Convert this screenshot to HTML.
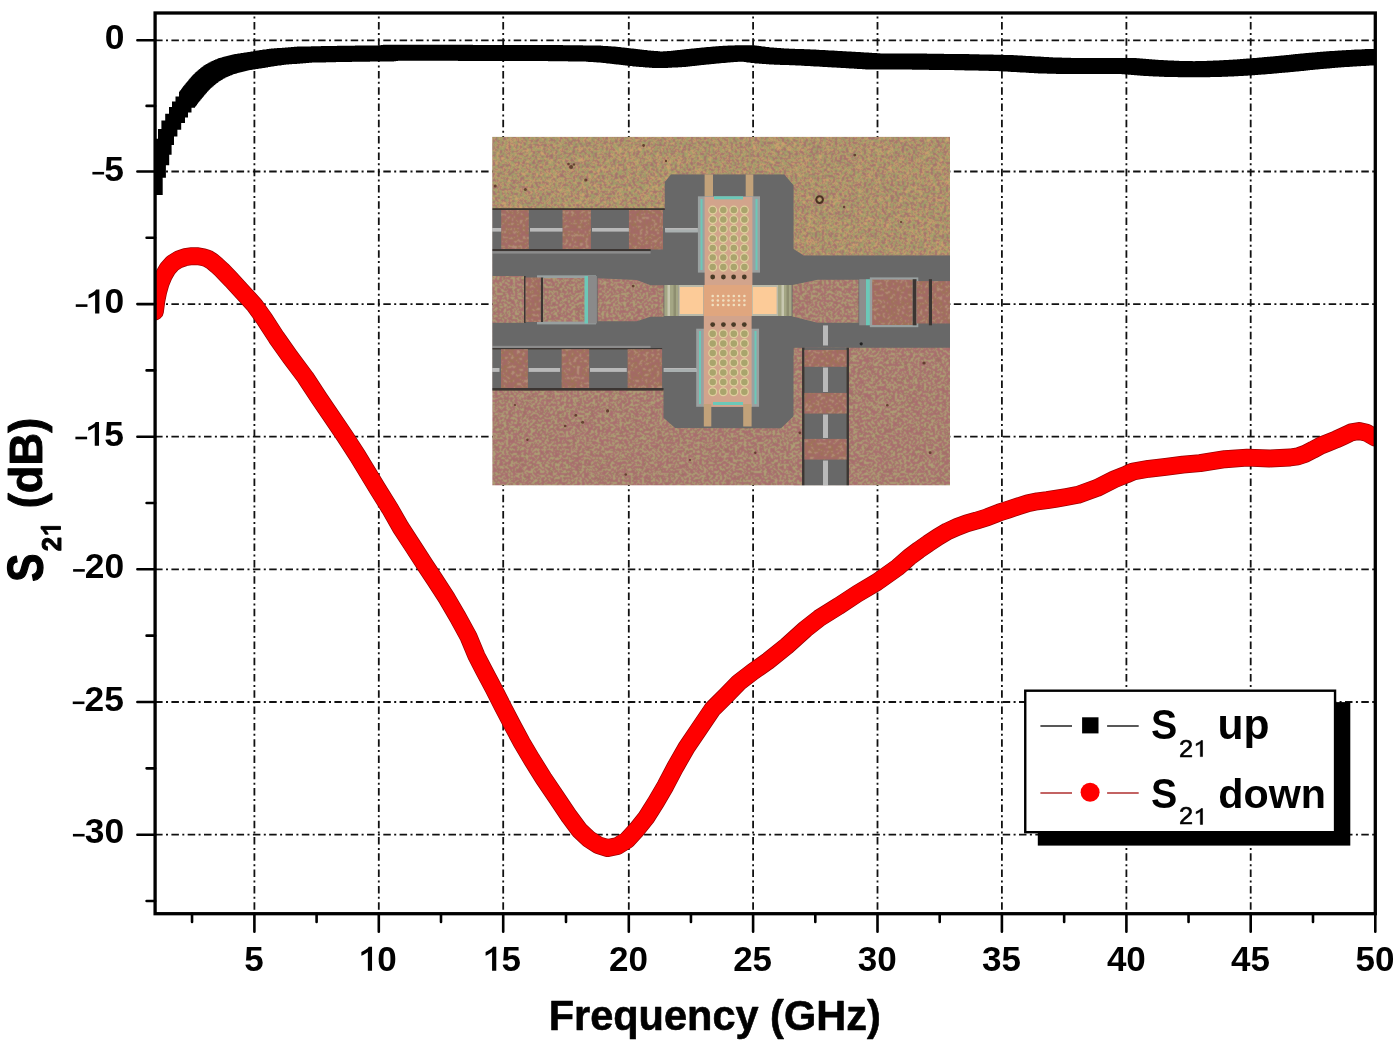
<!DOCTYPE html>
<html><head><meta charset="utf-8"><title>S21</title>
<style>html,body{margin:0;padding:0;background:#fff;width:1400px;height:1043px;overflow:hidden}svg{display:block}text{-webkit-font-smoothing:antialiased}#txt{opacity:0.999;will-change:transform}</style>
</head><body>
<svg width="1400" height="1043" viewBox="0 0 1400 1043" font-family="'Liberation Sans', sans-serif">
<defs>
<clipPath id="plot"><rect x="155.1" y="13.0" width="1220.2" height="900.7"/></clipPath>
<clipPath id="inset"><rect x="492.2" y="136.7" width="457.8" height="348.9"/></clipPath>
</defs>
<rect width="1400" height="1043" fill="#fff"/>
<path d="M254.40 13.0 V913.7M378.80 13.0 V913.7M503.20 13.0 V913.7M628.80 13.0 V913.7M753.10 13.0 V913.7M877.50 13.0 V913.7M1001.90 13.0 V913.7M1126.40 13.0 V913.7M1250.70 13.0 V913.7" stroke="#111" stroke-width="1.8" fill="none" stroke-dasharray="7.5 3.4 2 3.4" stroke-dashoffset="7.3"/>
<path d="M155.1 40.30 H1375.3M155.1 171.50 H1375.3M155.1 304.10 H1375.3M155.1 436.70 H1375.3M155.1 569.30 H1375.3M155.1 702.00 H1375.3M155.1 834.70 H1375.3" stroke="#111" stroke-width="1.8" fill="none" stroke-dasharray="7.5 3.4 2 3.4" stroke-dashoffset="0"/>
<defs>
<filter id="txTop" x="480" y="120" width="480" height="380" filterUnits="userSpaceOnUse" color-interpolation-filters="sRGB"><feTurbulence type="fractalNoise" baseFrequency="0.45" numOctaves="2" seed="3"/><feColorMatrix type="matrix" values="1 0 0 0 0 1 0 0 0 0 1 0 0 0 0 0 0 0 0 1"/><feComponentTransfer><feFuncR type="discrete" tableValues="0.651 0.651 0.651 0.651 0.651 0.651 0.651 0.651 0.651 0.651 0.651 0.651 0.651 0.651 0.651 0.651 0.651 0.651 0.651 0.651 0.651 0.651 0.651 0.651 0.651 0.651 0.651 0.651 0.651 0.651 0.651 0.651 0.651 0.651 0.651 0.651 0.808 0.808 0.808 0.808 0.808 0.808 0.627 0.627 0.627 0.627 0.627 0.627 0.627 0.627 0.627 0.627 0.627 0.627 0.627 0.627 0.627 0.627 0.627 0.627 0.627 0.627 0.627 0.627 0.627 0.627 0.627 0.627 0.627 0.627 0.627 0.627 0.627 0.627 0.627 0.627 0.627 0.627 0.627 0.627"/><feFuncG type="discrete" tableValues="0.439 0.439 0.439 0.439 0.439 0.439 0.439 0.439 0.439 0.439 0.439 0.439 0.439 0.439 0.439 0.439 0.439 0.439 0.439 0.439 0.439 0.439 0.439 0.439 0.439 0.439 0.439 0.439 0.439 0.439 0.439 0.439 0.439 0.439 0.439 0.439 0.635 0.635 0.635 0.635 0.635 0.635 0.627 0.627 0.627 0.627 0.627 0.627 0.627 0.627 0.627 0.627 0.627 0.627 0.627 0.627 0.627 0.627 0.627 0.627 0.627 0.627 0.627 0.627 0.627 0.627 0.627 0.627 0.627 0.627 0.627 0.627 0.627 0.627 0.627 0.627 0.627 0.627 0.627 0.627"/><feFuncB type="discrete" tableValues="0.431 0.431 0.431 0.431 0.431 0.431 0.431 0.431 0.431 0.431 0.431 0.431 0.431 0.431 0.431 0.431 0.431 0.431 0.431 0.431 0.431 0.431 0.431 0.431 0.431 0.431 0.431 0.431 0.431 0.431 0.431 0.431 0.431 0.431 0.431 0.431 0.431 0.431 0.431 0.431 0.431 0.431 0.416 0.416 0.416 0.416 0.416 0.416 0.416 0.416 0.416 0.416 0.416 0.416 0.416 0.416 0.416 0.416 0.416 0.416 0.416 0.416 0.416 0.416 0.416 0.416 0.416 0.416 0.416 0.416 0.416 0.416 0.416 0.416 0.416 0.416 0.416 0.416 0.416 0.416"/><feFuncA type="linear" slope="0" intercept="1"/></feComponentTransfer><feConvolveMatrix order="3" kernelMatrix="1 2 1 2 8 2 1 2 1" divisor="20" edgeMode="duplicate" preserveAlpha="true"/><feComposite in2="SourceGraphic" operator="in"/></filter>
<filter id="txBot" x="480" y="120" width="480" height="380" filterUnits="userSpaceOnUse" color-interpolation-filters="sRGB"><feTurbulence type="fractalNoise" baseFrequency="0.45" numOctaves="2" seed="11"/><feColorMatrix type="matrix" values="1 0 0 0 0 1 0 0 0 0 1 0 0 0 0 0 0 0 0 1"/><feComponentTransfer><feFuncR type="discrete" tableValues="0.667 0.667 0.667 0.667 0.667 0.667 0.667 0.667 0.667 0.667 0.667 0.667 0.667 0.667 0.667 0.667 0.667 0.667 0.667 0.667 0.667 0.667 0.667 0.667 0.667 0.667 0.667 0.667 0.667 0.667 0.667 0.667 0.667 0.667 0.667 0.667 0.667 0.667 0.667 0.667 0.667 0.596 0.596 0.675 0.675 0.675 0.675 0.675 0.675 0.675 0.675 0.675 0.675 0.675 0.675 0.675 0.675 0.675 0.675 0.675 0.675 0.675 0.675 0.675 0.675 0.675 0.675 0.675 0.675 0.675 0.675 0.675 0.675 0.675 0.675 0.675 0.675 0.675 0.675 0.675"/><feFuncG type="discrete" tableValues="0.431 0.431 0.431 0.431 0.431 0.431 0.431 0.431 0.431 0.431 0.431 0.431 0.431 0.431 0.431 0.431 0.431 0.431 0.431 0.431 0.431 0.431 0.431 0.431 0.431 0.431 0.431 0.431 0.431 0.431 0.431 0.431 0.431 0.431 0.431 0.431 0.431 0.431 0.431 0.431 0.431 0.455 0.455 0.635 0.635 0.635 0.635 0.635 0.635 0.635 0.635 0.635 0.635 0.635 0.635 0.635 0.635 0.635 0.635 0.635 0.635 0.635 0.635 0.635 0.635 0.635 0.635 0.635 0.635 0.635 0.635 0.635 0.635 0.635 0.635 0.635 0.635 0.635 0.635 0.635"/><feFuncB type="discrete" tableValues="0.439 0.439 0.439 0.439 0.439 0.439 0.439 0.439 0.439 0.439 0.439 0.439 0.439 0.439 0.439 0.439 0.439 0.439 0.439 0.439 0.439 0.439 0.439 0.439 0.439 0.439 0.439 0.439 0.439 0.439 0.439 0.439 0.439 0.439 0.439 0.439 0.439 0.439 0.439 0.439 0.439 0.376 0.376 0.455 0.455 0.455 0.455 0.455 0.455 0.455 0.455 0.455 0.455 0.455 0.455 0.455 0.455 0.455 0.455 0.455 0.455 0.455 0.455 0.455 0.455 0.455 0.455 0.455 0.455 0.455 0.455 0.455 0.455 0.455 0.455 0.455 0.455 0.455 0.455 0.455"/><feFuncA type="linear" slope="0" intercept="1"/></feComponentTransfer><feConvolveMatrix order="3" kernelMatrix="1 2 1 2 8 2 1 2 1" divisor="20" edgeMode="duplicate" preserveAlpha="true"/><feComposite in2="SourceGraphic" operator="in"/></filter>
<filter id="txPad" x="480" y="120" width="480" height="380" filterUnits="userSpaceOnUse" color-interpolation-filters="sRGB"><feTurbulence type="fractalNoise" baseFrequency="0.35" numOctaves="2" seed="5"/><feColorMatrix type="matrix" values="1 0 0 0 0 1 0 0 0 0 1 0 0 0 0 0 0 0 0 1"/><feComponentTransfer><feFuncR type="discrete" tableValues="0.643 0.643 0.643 0.643 0.643 0.643 0.643 0.643 0.643 0.643 0.643 0.643 0.643 0.643 0.643 0.643 0.643 0.643 0.643 0.643 0.643 0.643 0.643 0.643 0.643 0.643 0.643 0.643 0.643 0.643 0.643 0.643 0.643 0.643 0.643 0.643 0.643 0.643 0.643 0.643 0.643 0.643 0.612 0.612 0.612 0.612 0.612 0.612 0.612 0.612 0.706 0.706 0.706 0.706 0.706 0.706 0.706 0.706 0.706 0.706 0.706 0.706 0.706 0.706 0.706 0.706 0.706 0.706 0.706 0.706 0.706 0.706 0.706 0.706 0.706 0.706 0.706 0.706 0.706 0.706"/><feFuncG type="discrete" tableValues="0.416 0.416 0.416 0.416 0.416 0.416 0.416 0.416 0.416 0.416 0.416 0.416 0.416 0.416 0.416 0.416 0.416 0.416 0.416 0.416 0.416 0.416 0.416 0.416 0.416 0.416 0.416 0.416 0.416 0.416 0.416 0.416 0.416 0.416 0.416 0.416 0.416 0.416 0.416 0.416 0.416 0.416 0.455 0.455 0.455 0.455 0.455 0.455 0.455 0.455 0.557 0.557 0.557 0.557 0.557 0.557 0.557 0.557 0.557 0.557 0.557 0.557 0.557 0.557 0.557 0.557 0.557 0.557 0.557 0.557 0.557 0.557 0.557 0.557 0.557 0.557 0.557 0.557 0.557 0.557"/><feFuncB type="discrete" tableValues="0.400 0.400 0.400 0.400 0.400 0.400 0.400 0.400 0.400 0.400 0.400 0.400 0.400 0.400 0.400 0.400 0.400 0.400 0.400 0.400 0.400 0.400 0.400 0.400 0.400 0.400 0.400 0.400 0.400 0.400 0.400 0.400 0.400 0.400 0.400 0.400 0.400 0.400 0.400 0.400 0.400 0.400 0.329 0.329 0.329 0.329 0.329 0.329 0.329 0.329 0.478 0.478 0.478 0.478 0.478 0.478 0.478 0.478 0.478 0.478 0.478 0.478 0.478 0.478 0.478 0.478 0.478 0.478 0.478 0.478 0.478 0.478 0.478 0.478 0.478 0.478 0.478 0.478 0.478 0.478"/><feFuncA type="linear" slope="0" intercept="1"/></feComponentTransfer><feConvolveMatrix order="3" kernelMatrix="1 2 1 2 8 2 1 2 1" divisor="20" edgeMode="duplicate" preserveAlpha="true"/><feComposite in2="SourceGraphic" operator="in"/></filter>
<filter id="soft" x="480" y="120" width="480" height="380" filterUnits="userSpaceOnUse"><feGaussianBlur stdDeviation="0.6"/></filter>
</defs>
<g clip-path="url(#inset)"><g filter="url(#soft)">
<rect x="492.2" y="136.7" width="457.8" height="348.9" fill="#000" filter="url(#txBot)"/>
<path d="M492.2 136.7 L950.0 136.7 L950.0 255.5 L803.6 255.5 L793.5 249.0 L793.5 185.3 L784.3 174.4 L671.0 174.4 L664.8 182.0 L664.8 209.0 L492.2 209.0Z" fill="#000" filter="url(#txTop)"/>
<path d="M671.0 174.4 L784.3 174.4 L793.5 185.3 L793.5 249.0 L803.6 255.5 L950.0 255.5 L950.0 347.8 L805.0 347.8 L796.0 350.0 L793.7 356.0 L793.7 416.0 L781.0 428.2 L675.2 428.0 L663.5 417.7 L663.5 390.0 L492.2 390.0 L492.2 209.0 L664.8 209.0 L664.8 182.0Z" fill="#676767" />
<rect x="492.2" y="208.2" width="172.6" height="1.8" fill="#3a3530" />
<rect x="501.2" y="210.0" width="27.6" height="39.5" fill="#a2715f"  filter="url(#txPad)"/>
<rect x="562.5" y="210.0" width="28.4" height="39.5" fill="#a2715f"  filter="url(#txPad)"/>
<rect x="628.9" y="210.0" width="34.1" height="39.5" fill="#a2715f"  filter="url(#txPad)"/>
<rect x="492.2" y="249.0" width="158.4" height="2.0" fill="#3a3530" />
<rect x="492.2" y="251.2" width="158.4" height="2.4" fill="#8c8c8c" />
<rect x="492.2" y="228.0" width="9.0" height="3.6" fill="#b9b9b9" />
<rect x="530.0" y="228.0" width="32.5" height="3.6" fill="#b9b9b9" />
<rect x="592.0" y="228.0" width="36.9" height="3.6" fill="#b9b9b9" />
<rect x="665.0" y="228.0" width="32.9" height="3.6" fill="#b9b9b9" />
<rect x="537.0" y="275.3" width="59.0" height="49.1" fill="#98a0a0" />
<rect x="492.2" y="276.0" width="31.8" height="46.8" fill="#a57c70"  filter="url(#txBot)"/>
<rect x="524.0" y="276.0" width="1.6" height="46.8" fill="#3a3530" />
<rect x="525.6" y="277.5" width="15.3" height="44.5" fill="#a2715f"  filter="url(#txPad)"/>
<rect x="540.9" y="277.5" width="2.3" height="44.5" fill="#3a3530" />
<rect x="543.2" y="278.0" width="41.4" height="43.6" fill="#a88872"  filter="url(#txBot)"/>
<rect x="584.6" y="276.0" width="3.4" height="47.5" fill="#6cc8b8" />
<rect x="588.0" y="276.0" width="8.9" height="47.5" fill="#8a8a8a" />
<path d="M597.7 278.3 L636.8 279.9 L650.6 285.2 L663.6 285.2 L663.6 316.7 L650.6 316.7 L636.8 321.3 L597.7 321.3Z" fill="#a6806e"  filter="url(#txBot)"/>
<rect x="492.2" y="345.8" width="158.4" height="2.3" fill="#8c8c8c" />
<rect x="492.2" y="348.1" width="169.9" height="1.3" fill="#3a3530" />
<rect x="501.0" y="349.2" width="26.9" height="39.3" fill="#a2715f"  filter="url(#txPad)"/>
<rect x="561.6" y="349.2" width="27.6" height="39.3" fill="#a2715f"  filter="url(#txPad)"/>
<rect x="627.6" y="349.2" width="34.5" height="39.3" fill="#a2715f"  filter="url(#txPad)"/>
<rect x="492.2" y="368.0" width="7.3" height="3.9" fill="#b9b9b9" />
<rect x="528.6" y="368.0" width="31.5" height="3.9" fill="#b9b9b9" />
<rect x="590.0" y="368.0" width="36.8" height="3.9" fill="#b9b9b9" />
<rect x="663.6" y="368.0" width="33.4" height="3.9" fill="#b9b9b9" />
<rect x="492.2" y="388.0" width="171.3" height="2.6" fill="#3a3530" />
<path d="M792.5 285.0 L817.4 279.8 L858.5 279.8 L858.5 322.8 L817.4 322.8 L792.5 316.6Z" fill="#a6806e"  filter="url(#txBot)"/>
<rect x="859.2" y="279.2" width="6.8" height="46.1" fill="#8d8d8d" />
<rect x="866.0" y="279.2" width="5.0" height="46.1" fill="#6cc8b8" />
<rect x="869.8" y="277.4" width="48.5" height="49.8" fill="#98a0a0" />
<rect x="872.2" y="279.6" width="40.5" height="45.4" fill="#a2715f"  filter="url(#txPad)"/>
<rect x="912.7" y="279.2" width="3.8" height="46.1" fill="#3a3530" />
<rect x="916.5" y="281.1" width="12.4" height="42.4" fill="#a07a62"  filter="url(#txPad)"/>
<rect x="928.9" y="279.2" width="3.1" height="46.1" fill="#3a3530" />
<rect x="932.0" y="281.1" width="18.0" height="42.4" fill="#a2715f"  filter="url(#txPad)"/>
<rect x="793.7" y="347.8" width="8.4" height="137.8" fill="#a57c70"  filter="url(#txBot)"/>
<rect x="802.1" y="347.8" width="46.8" height="137.8" fill="#676767" />
<rect x="802.1" y="347.8" width="2.3" height="137.8" fill="#3a3530" />
<rect x="846.6" y="347.8" width="2.3" height="137.8" fill="#3a3530" />
<rect x="804.4" y="349.9" width="42.2" height="16.9" fill="#a2715f"  filter="url(#txPad)"/>
<rect x="804.4" y="392.9" width="42.2" height="20.7" fill="#a2715f"  filter="url(#txPad)"/>
<rect x="804.4" y="438.9" width="42.2" height="20.7" fill="#a2715f"  filter="url(#txPad)"/>
<rect x="823.0" y="325.4" width="5.0" height="20.1" fill="#b9b9b9" />
<rect x="823.0" y="367.5" width="5.0" height="24.5" fill="#b9b9b9" />
<rect x="823.0" y="414.5" width="5.0" height="23.5" fill="#b9b9b9" />
<rect x="823.0" y="460.5" width="5.0" height="25.1" fill="#b9b9b9" />
<rect x="704.6" y="174.4" width="8.4" height="23.6" fill="#c2a27a" />
<rect x="745.7" y="174.4" width="7.6" height="23.6" fill="#c2a27a" />
<rect x="697.9" y="196.3" width="62.1" height="76.3" fill="#9aa0a0" />
<rect x="700.5" y="199.0" width="2.0" height="71.0" fill="#6cc8b8" />
<rect x="755.5" y="199.0" width="2.0" height="71.0" fill="#6cc8b8" />
<rect x="704.6" y="197.0" width="47.8" height="89.0" fill="#d2a48c" />
<rect x="696.2" y="328.7" width="62.9" height="78.1" fill="#9aa0a0" />
<rect x="699.0" y="331.0" width="2.0" height="73.0" fill="#6cc8b8" />
<rect x="754.5" y="331.0" width="2.0" height="73.0" fill="#6cc8b8" />
<rect x="703.8" y="315.0" width="47.8" height="91.8" fill="#d2a48c" />
<rect x="703.8" y="404.0" width="7.5" height="22.5" fill="#c2a27a" />
<rect x="743.2" y="404.0" width="8.4" height="22.5" fill="#c2a27a" />
<g fill="#a9a46c" stroke="#e0cf9e" stroke-width="1.3"><circle cx="712.7" cy="210.1" r="3.9"/><circle cx="712.7" cy="333.8" r="3.9"/><circle cx="712.7" cy="219.6" r="3.9"/><circle cx="712.7" cy="343.4" r="3.9"/><circle cx="712.7" cy="229.1" r="3.9"/><circle cx="712.7" cy="353.1" r="3.9"/><circle cx="712.7" cy="238.6" r="3.9"/><circle cx="712.7" cy="362.8" r="3.9"/><circle cx="712.7" cy="248.1" r="3.9"/><circle cx="712.7" cy="372.4" r="3.9"/><circle cx="712.7" cy="257.6" r="3.9"/><circle cx="712.7" cy="382.1" r="3.9"/><circle cx="712.7" cy="267.1" r="3.9"/><circle cx="712.7" cy="391.7" r="3.9"/><circle cx="723.3" cy="210.1" r="3.9"/><circle cx="723.3" cy="333.8" r="3.9"/><circle cx="723.3" cy="219.6" r="3.9"/><circle cx="723.3" cy="343.4" r="3.9"/><circle cx="723.3" cy="229.1" r="3.9"/><circle cx="723.3" cy="353.1" r="3.9"/><circle cx="723.3" cy="238.6" r="3.9"/><circle cx="723.3" cy="362.8" r="3.9"/><circle cx="723.3" cy="248.1" r="3.9"/><circle cx="723.3" cy="372.4" r="3.9"/><circle cx="723.3" cy="257.6" r="3.9"/><circle cx="723.3" cy="382.1" r="3.9"/><circle cx="723.3" cy="267.1" r="3.9"/><circle cx="723.3" cy="391.7" r="3.9"/><circle cx="733.8" cy="210.1" r="3.9"/><circle cx="733.8" cy="333.8" r="3.9"/><circle cx="733.8" cy="219.6" r="3.9"/><circle cx="733.8" cy="343.4" r="3.9"/><circle cx="733.8" cy="229.1" r="3.9"/><circle cx="733.8" cy="353.1" r="3.9"/><circle cx="733.8" cy="238.6" r="3.9"/><circle cx="733.8" cy="362.8" r="3.9"/><circle cx="733.8" cy="248.1" r="3.9"/><circle cx="733.8" cy="372.4" r="3.9"/><circle cx="733.8" cy="257.6" r="3.9"/><circle cx="733.8" cy="382.1" r="3.9"/><circle cx="733.8" cy="267.1" r="3.9"/><circle cx="733.8" cy="391.7" r="3.9"/><circle cx="744.4" cy="210.1" r="3.9"/><circle cx="744.4" cy="333.8" r="3.9"/><circle cx="744.4" cy="219.6" r="3.9"/><circle cx="744.4" cy="343.4" r="3.9"/><circle cx="744.4" cy="229.1" r="3.9"/><circle cx="744.4" cy="353.1" r="3.9"/><circle cx="744.4" cy="238.6" r="3.9"/><circle cx="744.4" cy="362.8" r="3.9"/><circle cx="744.4" cy="248.1" r="3.9"/><circle cx="744.4" cy="372.4" r="3.9"/><circle cx="744.4" cy="257.6" r="3.9"/><circle cx="744.4" cy="382.1" r="3.9"/><circle cx="744.4" cy="267.1" r="3.9"/><circle cx="744.4" cy="391.7" r="3.9"/></g>
<rect x="714.0" y="196.3" width="29.0" height="3.0" fill="#6cc8b8" />
<rect x="713.0" y="402.0" width="30.0" height="3.0" fill="#6cc8b8" />
<rect x="664.3" y="285.0" width="14.1" height="31.0" fill="#a4a684" />
<rect x="667.5" y="285.0" width="2.5" height="31.0" fill="#c8c8b0" />
<rect x="673.5" y="285.0" width="2.5" height="31.0" fill="#8e8e70" />
<rect x="678.4" y="285.0" width="25.4" height="31.0" fill="#b9b9a8" />
<rect x="679.8" y="287.0" width="23.4" height="27.0" fill="#fccb98" />
<rect x="703.8" y="285.0" width="48.2" height="31.0" fill="#e0a67e" />
<rect x="752.0" y="285.0" width="26.0" height="31.0" fill="#b9b9a8" />
<rect x="752.8" y="287.0" width="23.8" height="27.0" fill="#fccb98" />
<rect x="778.0" y="285.0" width="13.6" height="31.0" fill="#a4a684" />
<rect x="781.5" y="285.0" width="2.5" height="31.0" fill="#c8c8b0" />
<rect x="786.5" y="285.0" width="2.5" height="31.0" fill="#8e8e70" />
<g fill="#f0e0c0"><circle cx="712.7" cy="296.0" r="1.3"/><circle cx="712.7" cy="300.5" r="1.3"/><circle cx="712.7" cy="305.0" r="1.3"/><circle cx="717.9" cy="296.0" r="1.3"/><circle cx="717.9" cy="300.5" r="1.3"/><circle cx="717.9" cy="305.0" r="1.3"/><circle cx="723.3" cy="296.0" r="1.3"/><circle cx="723.3" cy="300.5" r="1.3"/><circle cx="723.3" cy="305.0" r="1.3"/><circle cx="728.5" cy="296.0" r="1.3"/><circle cx="728.5" cy="300.5" r="1.3"/><circle cx="728.5" cy="305.0" r="1.3"/><circle cx="733.8" cy="296.0" r="1.3"/><circle cx="733.8" cy="300.5" r="1.3"/><circle cx="733.8" cy="305.0" r="1.3"/><circle cx="739.1" cy="296.0" r="1.3"/><circle cx="739.1" cy="300.5" r="1.3"/><circle cx="739.1" cy="305.0" r="1.3"/><circle cx="744.4" cy="296.0" r="1.3"/><circle cx="744.4" cy="300.5" r="1.3"/><circle cx="744.4" cy="305.0" r="1.3"/></g>
<g fill="#4a3a28"><circle cx="712.7" cy="277.0" r="2.4"/><circle cx="712.7" cy="324.6" r="2.4"/><circle cx="723.4" cy="277.0" r="2.4"/><circle cx="723.4" cy="324.6" r="2.4"/><circle cx="733.6" cy="277.0" r="2.4"/><circle cx="733.6" cy="324.6" r="2.4"/><circle cx="744.3" cy="277.0" r="2.4"/><circle cx="744.3" cy="324.6" r="2.4"/></g>
<rect x="665.2" y="229.5" width="32.7" height="3.0" fill="#a9b0b0" />
<rect x="664.3" y="369.0" width="32.7" height="3.0" fill="#a9b0b0" />
<g fill="#5a3526" opacity="0.85"><circle cx="571.1" cy="167.1" r="2.0"/><circle cx="568.5" cy="164.0" r="1.3"/><circle cx="574.0" cy="164.5" r="1.2"/><circle cx="585.8" cy="180" r="1.6"/><circle cx="525.4" cy="189.5" r="1.5"/><circle cx="495.2" cy="186.1" r="1.5"/><circle cx="643.6" cy="145.5" r="1.4"/><circle cx="666" cy="161" r="1.2"/><circle cx="633.2" cy="286.1" r="1.4"/><circle cx="854.8" cy="155.1" r="1.4"/><circle cx="844.0" cy="207.0" r="1.2"/><circle cx="924" cy="363" r="1.6"/><circle cx="887.3" cy="405.2" r="1.3"/><circle cx="930.2" cy="452.7" r="1.4"/><circle cx="799.8" cy="432.8" r="1.4"/><circle cx="755.3" cy="452.7" r="1.2"/><circle cx="607.6" cy="410.9" r="1.6"/><circle cx="575.8" cy="415.4" r="1.4"/><circle cx="582.6" cy="422.2" r="1.5"/><circle cx="565.2" cy="426" r="1.3"/><circle cx="527.4" cy="439.7" r="1.2"/><circle cx="625.8" cy="474.5" r="1.3"/><circle cx="515.0" cy="405.0" r="1.1"/><circle cx="690.0" cy="460.0" r="1.1"/><circle cx="901.0" cy="222.0" r="1.1"/></g>
<circle cx="861.2" cy="343.8" r="1.6" fill="#222"/>
<circle cx="819.6" cy="199.6" r="3.3" fill="none" stroke="#4a3020" stroke-width="2"/>
</g></g>
<g clip-path="url(#plot)">
<path d="M154.9 311.5 L156.3 301.0 L158.2 291.5 L160.6 283.0 L163.7 275.5 L167.6 268.7 L172.5 263.3 L178.5 259.5 L185.0 257.2 L192.0 256.2 L198.0 256.3 L203.5 257.3 L207.5 258.5 L212.3 261.4 L217.0 265.5 L221.9 270.0 L231.5 280.0 L241.1 290.5 L254.4 305.0 L264.0 318.4 L276.4 337.5 L289.9 356.7 L305.5 377.5 L319.2 398.4 L332.2 417.5 L345.2 436.7 L357.6 455.9 L377.8 489.2 L389.8 508.4 L400.7 527.5 L413.2 546.7 L425.6 565.9 L434.5 579.2 L446.9 598.4 L458.0 617.5 L468.5 636.7 L476.5 656.0 L483.3 669.2 L493.5 688.4 L503.2 707.5 L513.2 726.7 L522.0 743.0 L531.6 759.2 L543.6 778.4 L556.5 797.5 L569.4 816.7 L579.2 829.9 L588.8 839.0 L598.4 845.2 L607.9 848.1 L617.5 846.0 L627.1 840.0 L636.7 829.5 L646.3 817.5 L655.9 802.2 L665.4 785.9 L675.5 766.7 L686.5 747.5 L699.4 728.4 L712.4 709.2 L725.8 695.9 L738.8 682.5 L753.1 671.5 L767.5 661.4 L786.7 646.0 L805.5 629.0 L819.2 618.2 L838.4 606.2 L857.5 593.6 L876.7 582.2 L897.5 567.5 L909.2 557.2 L918.8 550.0 L928.4 543.3 L937.9 537.0 L947.5 531.3 L957.1 527.0 L966.7 523.4 L976.3 520.7 L987.5 517.2 L999.2 512.6 L1008.8 509.4 L1018.4 506.3 L1027.9 503.2 L1037.5 501.3 L1047.1 500.1 L1056.7 498.6 L1066.3 497.0 L1078.0 494.8 L1097.1 487.9 L1114.3 479.3 L1126.3 474.5 L1133.1 471.5 L1148.6 468.8 L1165.7 466.9 L1182.9 464.7 L1200.0 463.2 L1225.0 459.2 L1247.1 457.6 L1269.3 458.5 L1290.0 457.5 L1297.7 456.4 L1305.3 453.7 L1313.0 449.8 L1320.7 445.6 L1328.3 442.6 L1336.0 439.5 L1343.7 436.0 L1351.3 432.4 L1359.0 431.0 L1366.7 432.8 L1375.0 437.5" fill="none" stroke="#9a0000" stroke-width="17.9" stroke-linejoin="round" stroke-linecap="round"/>
<path d="M154.9 311.5 L156.3 301.0 L158.2 291.5 L160.6 283.0 L163.7 275.5 L167.6 268.7 L172.5 263.3 L178.5 259.5 L185.0 257.2 L192.0 256.2 L198.0 256.3 L203.5 257.3 L207.5 258.5 L212.3 261.4 L217.0 265.5 L221.9 270.0 L231.5 280.0 L241.1 290.5 L254.4 305.0 L264.0 318.4 L276.4 337.5 L289.9 356.7 L305.5 377.5 L319.2 398.4 L332.2 417.5 L345.2 436.7 L357.6 455.9 L377.8 489.2 L389.8 508.4 L400.7 527.5 L413.2 546.7 L425.6 565.9 L434.5 579.2 L446.9 598.4 L458.0 617.5 L468.5 636.7 L476.5 656.0 L483.3 669.2 L493.5 688.4 L503.2 707.5 L513.2 726.7 L522.0 743.0 L531.6 759.2 L543.6 778.4 L556.5 797.5 L569.4 816.7 L579.2 829.9 L588.8 839.0 L598.4 845.2 L607.9 848.1 L617.5 846.0 L627.1 840.0 L636.7 829.5 L646.3 817.5 L655.9 802.2 L665.4 785.9 L675.5 766.7 L686.5 747.5 L699.4 728.4 L712.4 709.2 L725.8 695.9 L738.8 682.5 L753.1 671.5 L767.5 661.4 L786.7 646.0 L805.5 629.0 L819.2 618.2 L838.4 606.2 L857.5 593.6 L876.7 582.2 L897.5 567.5 L909.2 557.2 L918.8 550.0 L928.4 543.3 L937.9 537.0 L947.5 531.3 L957.1 527.0 L966.7 523.4 L976.3 520.7 L987.5 517.2 L999.2 512.6 L1008.8 509.4 L1018.4 506.3 L1027.9 503.2 L1037.5 501.3 L1047.1 500.1 L1056.7 498.6 L1066.3 497.0 L1078.0 494.8 L1097.1 487.9 L1114.3 479.3 L1126.3 474.5 L1133.1 471.5 L1148.6 468.8 L1165.7 466.9 L1182.9 464.7 L1200.0 463.2 L1225.0 459.2 L1247.1 457.6 L1269.3 458.5 L1290.0 457.5 L1297.7 456.4 L1305.3 453.7 L1313.0 449.8 L1320.7 445.6 L1328.3 442.6 L1336.0 439.5 L1343.7 436.0 L1351.3 432.4 L1359.0 431.0 L1366.7 432.8 L1375.0 437.5" fill="none" stroke="#ff0000" stroke-width="16.4" stroke-linejoin="round" stroke-linecap="round"/>
<path d="M146.7 178.9h16v16h-16zM149.9 161.7h16v16h-16zM153.2 149.2h16v16h-16zM155.6 138.7h16v16h-16zM158.0 129.1h16v16h-16zM161.4 120.4h16v16h-16zM165.2 113.7h16v16h-16zM169.0 107.0h16v16h-16zM172.0 101.5h16v16h-16zM175.5 96.5h16v16h-16zM179.0 91.8h16v16h-16zM179.0 91.8h16v16h-16zM179.7 90.8h16v16h-16zM180.4 89.9h16v16h-16zM181.1 88.9h16v16h-16zM181.8 88.0h16v16h-16zM182.5 87.0h16v16h-16zM183.2 86.1h16v16h-16zM183.9 85.3h16v16h-16zM184.6 84.4h16v16h-16zM185.3 83.6h16v16h-16zM186.0 82.7h16v16h-16zM186.7 81.9h16v16h-16zM187.4 81.0h16v16h-16zM188.1 80.2h16v16h-16zM188.8 79.3h16v16h-16zM189.5 78.5h16v16h-16zM190.2 77.7h16v16h-16zM190.9 76.9h16v16h-16zM191.6 76.1h16v16h-16zM192.3 75.3h16v16h-16zM193.0 74.5h16v16h-16zM193.9 73.7h16v16h-16zM194.8 72.8h16v16h-16zM195.6 72.0h16v16h-16zM196.5 71.2h16v16h-16zM197.4 70.5h16v16h-16zM198.2 69.7h16v16h-16zM199.1 69.0h16v16h-16zM200.0 68.2h16v16h-16zM200.9 67.5h16v16h-16zM201.8 66.9h16v16h-16zM202.6 66.2h16v16h-16zM203.5 65.6h16v16h-16zM204.4 65.0h16v16h-16zM205.2 64.5h16v16h-16zM206.1 64.0h16v16h-16zM207.0 63.4h16v16h-16zM208.2 62.8h16v16h-16zM209.3 62.2h16v16h-16zM210.5 61.6h16v16h-16zM211.7 61.1h16v16h-16zM212.8 60.5h16v16h-16zM214.0 60.0h16v16h-16zM215.0 59.6h16v16h-16zM216.0 59.2h16v16h-16zM217.0 58.7h16v16h-16zM218.0 58.3h16v16h-16zM219.1 58.0h16v16h-16zM220.1 57.7h16v16h-16zM221.2 57.4h16v16h-16zM222.3 57.1h16v16h-16zM223.4 56.8h16v16h-16zM224.4 56.5h16v16h-16zM225.5 56.2h16v16h-16zM226.5 56.0h16v16h-16zM227.5 55.7h16v16h-16zM228.5 55.5h16v16h-16zM229.5 55.2h16v16h-16zM230.5 55.0h16v16h-16zM231.5 54.7h16v16h-16zM232.5 54.5h16v16h-16zM233.6 54.3h16v16h-16zM234.6 54.1h16v16h-16zM235.7 53.9h16v16h-16zM236.8 53.8h16v16h-16zM237.8 53.6h16v16h-16zM238.9 53.4h16v16h-16zM239.9 53.2h16v16h-16zM241.0 53.0h16v16h-16zM242.1 52.9h16v16h-16zM243.2 52.7h16v16h-16zM244.3 52.6h16v16h-16zM245.4 52.4h16v16h-16zM246.5 52.3h16v16h-16zM247.6 52.1h16v16h-16zM248.7 52.0h16v16h-16zM249.8 51.8h16v16h-16zM250.9 51.6h16v16h-16zM252.0 51.4h16v16h-16zM253.2 51.1h16v16h-16zM254.3 50.9h16v16h-16zM255.4 50.7h16v16h-16zM256.5 50.5h16v16h-16zM257.6 50.4h16v16h-16zM258.6 50.2h16v16h-16zM259.7 50.1h16v16h-16zM260.8 49.9h16v16h-16zM261.9 49.8h16v16h-16zM262.9 49.6h16v16h-16zM264.0 49.5h16v16h-16zM265.0 49.4h16v16h-16zM266.0 49.2h16v16h-16zM267.0 49.1h16v16h-16zM268.0 49.0h16v16h-16zM269.0 48.8h16v16h-16zM270.0 48.7h16v16h-16zM271.0 48.5h16v16h-16zM272.0 48.4h16v16h-16zM273.0 48.4h16v16h-16zM274.0 48.3h16v16h-16zM275.0 48.2h16v16h-16zM276.0 48.2h16v16h-16zM277.0 48.1h16v16h-16zM278.0 48.1h16v16h-16zM279.0 48.0h16v16h-16zM280.0 48.0h16v16h-16zM281.0 47.9h16v16h-16zM282.0 47.8h16v16h-16zM283.0 47.8h16v16h-16zM284.0 47.7h16v16h-16zM285.0 47.6h16v16h-16zM286.0 47.5h16v16h-16zM287.0 47.4h16v16h-16zM288.0 47.3h16v16h-16zM289.0 47.3h16v16h-16zM290.0 47.2h16v16h-16zM291.0 47.1h16v16h-16zM292.0 47.0h16v16h-16zM293.0 46.9h16v16h-16zM294.0 46.8h16v16h-16zM295.0 46.8h16v16h-16zM296.0 46.7h16v16h-16zM297.0 46.6h16v16h-16zM298.0 46.6h16v16h-16zM299.0 46.6h16v16h-16zM300.0 46.5h16v16h-16zM301.0 46.5h16v16h-16zM302.0 46.5h16v16h-16zM303.0 46.5h16v16h-16zM304.0 46.5h16v16h-16zM305.0 46.5h16v16h-16zM306.0 46.4h16v16h-16zM307.0 46.4h16v16h-16zM308.0 46.4h16v16h-16zM309.0 46.4h16v16h-16zM310.0 46.4h16v16h-16zM311.0 46.3h16v16h-16zM312.0 46.3h16v16h-16zM313.0 46.3h16v16h-16zM314.0 46.3h16v16h-16zM315.0 46.3h16v16h-16zM316.0 46.2h16v16h-16zM317.0 46.2h16v16h-16zM318.0 46.2h16v16h-16zM319.0 46.2h16v16h-16zM320.0 46.2h16v16h-16zM321.0 46.1h16v16h-16zM322.0 46.1h16v16h-16zM323.0 46.1h16v16h-16zM324.0 46.1h16v16h-16zM325.0 46.0h16v16h-16zM326.0 46.0h16v16h-16zM327.0 46.0h16v16h-16zM328.0 46.0h16v16h-16zM329.0 46.0h16v16h-16zM330.0 45.9h16v16h-16zM331.0 45.9h16v16h-16zM332.0 45.9h16v16h-16zM333.0 45.9h16v16h-16zM334.0 45.9h16v16h-16zM335.0 45.9h16v16h-16zM336.0 45.9h16v16h-16zM337.0 45.8h16v16h-16zM338.0 45.8h16v16h-16zM339.0 45.8h16v16h-16zM340.0 45.8h16v16h-16zM341.0 45.8h16v16h-16zM342.0 45.8h16v16h-16zM343.0 45.8h16v16h-16zM344.0 45.8h16v16h-16zM345.0 45.8h16v16h-16zM346.0 45.7h16v16h-16zM347.0 45.7h16v16h-16zM348.0 45.7h16v16h-16zM349.0 45.7h16v16h-16zM350.0 45.7h16v16h-16zM351.0 45.7h16v16h-16zM352.0 45.7h16v16h-16zM353.0 45.7h16v16h-16zM354.0 45.7h16v16h-16zM355.0 45.6h16v16h-16zM356.0 45.6h16v16h-16zM357.0 45.6h16v16h-16zM358.0 45.6h16v16h-16zM359.0 45.6h16v16h-16zM360.0 45.6h16v16h-16zM361.0 45.6h16v16h-16zM362.0 45.6h16v16h-16zM363.0 45.6h16v16h-16zM364.0 45.6h16v16h-16zM365.0 45.5h16v16h-16zM366.0 45.5h16v16h-16zM367.0 45.5h16v16h-16zM368.0 45.5h16v16h-16zM369.0 45.5h16v16h-16zM370.0 45.5h16v16h-16zM371.0 45.5h16v16h-16zM372.0 45.5h16v16h-16zM373.0 45.5h16v16h-16zM374.0 45.4h16v16h-16zM375.0 45.4h16v16h-16zM376.0 45.4h16v16h-16zM377.0 45.4h16v16h-16zM378.0 45.4h16v16h-16zM379.0 45.3h16v16h-16zM380.0 45.2h16v16h-16zM381.0 45.0h16v16h-16zM382.0 44.9h16v16h-16zM383.0 44.8h16v16h-16zM384.0 44.7h16v16h-16zM385.0 44.7h16v16h-16zM386.0 44.7h16v16h-16zM387.0 44.7h16v16h-16zM388.0 44.7h16v16h-16zM389.0 44.7h16v16h-16zM390.0 44.7h16v16h-16zM391.0 44.7h16v16h-16zM392.0 44.7h16v16h-16zM393.0 44.7h16v16h-16zM394.0 44.7h16v16h-16zM395.0 44.7h16v16h-16zM396.0 44.7h16v16h-16zM397.0 44.7h16v16h-16zM398.0 44.7h16v16h-16zM399.0 44.7h16v16h-16zM400.0 44.7h16v16h-16zM401.0 44.7h16v16h-16zM402.0 44.7h16v16h-16zM403.0 44.7h16v16h-16zM404.0 44.7h16v16h-16zM405.0 44.7h16v16h-16zM406.0 44.7h16v16h-16zM407.0 44.7h16v16h-16zM408.0 44.7h16v16h-16zM409.0 44.8h16v16h-16zM410.0 44.8h16v16h-16zM411.0 44.8h16v16h-16zM412.0 44.8h16v16h-16zM413.0 44.8h16v16h-16zM414.0 44.8h16v16h-16zM415.0 44.8h16v16h-16zM416.0 44.8h16v16h-16zM417.0 44.8h16v16h-16zM418.0 44.8h16v16h-16zM419.0 44.8h16v16h-16zM420.0 44.8h16v16h-16zM421.0 44.8h16v16h-16zM422.0 44.8h16v16h-16zM423.0 44.8h16v16h-16zM424.0 44.8h16v16h-16zM425.0 44.8h16v16h-16zM426.0 44.8h16v16h-16zM427.0 44.8h16v16h-16zM428.0 44.8h16v16h-16zM429.0 44.8h16v16h-16zM430.0 44.8h16v16h-16zM431.0 44.8h16v16h-16zM432.0 44.8h16v16h-16zM433.0 44.8h16v16h-16zM434.0 44.8h16v16h-16zM435.0 44.8h16v16h-16zM436.0 44.8h16v16h-16zM437.0 44.8h16v16h-16zM438.0 44.8h16v16h-16zM439.0 44.8h16v16h-16zM440.0 44.8h16v16h-16zM441.0 44.8h16v16h-16zM442.0 44.8h16v16h-16zM443.0 44.8h16v16h-16zM444.0 44.8h16v16h-16zM445.0 44.8h16v16h-16zM446.0 44.8h16v16h-16zM447.0 44.8h16v16h-16zM448.0 44.8h16v16h-16zM449.0 44.8h16v16h-16zM450.0 44.8h16v16h-16zM451.0 44.8h16v16h-16zM452.0 44.8h16v16h-16zM453.0 44.8h16v16h-16zM454.0 44.8h16v16h-16zM455.0 44.8h16v16h-16zM456.0 44.8h16v16h-16zM457.0 44.8h16v16h-16zM458.0 44.9h16v16h-16zM459.0 44.9h16v16h-16zM460.0 44.9h16v16h-16zM461.0 44.9h16v16h-16zM462.0 44.9h16v16h-16zM463.0 44.9h16v16h-16zM464.0 44.9h16v16h-16zM465.0 44.9h16v16h-16zM466.0 44.9h16v16h-16zM467.0 44.9h16v16h-16zM468.0 44.9h16v16h-16zM469.0 44.9h16v16h-16zM470.0 44.9h16v16h-16zM471.0 44.9h16v16h-16zM472.0 44.9h16v16h-16zM473.0 44.9h16v16h-16zM474.0 44.9h16v16h-16zM475.0 44.9h16v16h-16zM476.0 44.9h16v16h-16zM477.0 44.9h16v16h-16zM478.0 44.9h16v16h-16zM479.0 44.9h16v16h-16zM480.0 44.9h16v16h-16zM481.0 44.9h16v16h-16zM482.0 44.9h16v16h-16zM483.0 44.9h16v16h-16zM484.0 44.9h16v16h-16zM485.0 44.9h16v16h-16zM486.0 44.9h16v16h-16zM487.0 44.9h16v16h-16zM488.0 44.9h16v16h-16zM489.0 44.9h16v16h-16zM490.0 44.9h16v16h-16zM491.0 44.9h16v16h-16zM492.0 44.9h16v16h-16zM493.0 44.9h16v16h-16zM494.0 44.9h16v16h-16zM495.0 44.9h16v16h-16zM496.0 44.9h16v16h-16zM497.0 44.9h16v16h-16zM498.0 44.9h16v16h-16zM499.0 44.9h16v16h-16zM500.0 44.9h16v16h-16zM501.0 44.9h16v16h-16zM502.0 44.9h16v16h-16zM503.0 44.9h16v16h-16zM504.0 44.9h16v16h-16zM505.0 44.9h16v16h-16zM506.0 44.9h16v16h-16zM507.0 44.9h16v16h-16zM508.0 45.0h16v16h-16zM509.0 45.0h16v16h-16zM510.0 45.0h16v16h-16zM511.0 45.0h16v16h-16zM512.0 45.0h16v16h-16zM513.0 45.0h16v16h-16zM514.0 45.0h16v16h-16zM515.0 45.0h16v16h-16zM516.0 45.0h16v16h-16zM517.0 45.0h16v16h-16zM518.0 45.0h16v16h-16zM519.0 45.0h16v16h-16zM520.0 45.0h16v16h-16zM521.0 45.0h16v16h-16zM522.0 45.0h16v16h-16zM523.0 45.0h16v16h-16zM524.0 45.0h16v16h-16zM525.0 45.0h16v16h-16zM526.0 45.0h16v16h-16zM527.0 45.0h16v16h-16zM528.0 45.0h16v16h-16zM529.0 45.0h16v16h-16zM530.0 45.0h16v16h-16zM531.0 45.0h16v16h-16zM532.0 45.0h16v16h-16zM533.0 45.0h16v16h-16zM534.0 45.0h16v16h-16zM535.0 45.0h16v16h-16zM536.0 45.0h16v16h-16zM537.0 45.0h16v16h-16zM538.0 45.1h16v16h-16zM539.0 45.1h16v16h-16zM540.0 45.1h16v16h-16zM541.0 45.1h16v16h-16zM542.0 45.1h16v16h-16zM543.0 45.1h16v16h-16zM544.0 45.1h16v16h-16zM545.0 45.1h16v16h-16zM546.0 45.1h16v16h-16zM547.0 45.1h16v16h-16zM548.0 45.2h16v16h-16zM549.0 45.2h16v16h-16zM550.0 45.2h16v16h-16zM551.0 45.2h16v16h-16zM552.0 45.2h16v16h-16zM553.0 45.2h16v16h-16zM554.0 45.2h16v16h-16zM555.0 45.2h16v16h-16zM556.0 45.2h16v16h-16zM557.0 45.2h16v16h-16zM558.0 45.3h16v16h-16zM559.0 45.3h16v16h-16zM560.0 45.3h16v16h-16zM561.0 45.3h16v16h-16zM562.0 45.3h16v16h-16zM563.0 45.3h16v16h-16zM564.0 45.3h16v16h-16zM565.0 45.3h16v16h-16zM566.0 45.3h16v16h-16zM567.0 45.3h16v16h-16zM568.0 45.4h16v16h-16zM569.0 45.4h16v16h-16zM570.0 45.4h16v16h-16zM571.0 45.4h16v16h-16zM572.0 45.4h16v16h-16zM573.0 45.4h16v16h-16zM574.0 45.4h16v16h-16zM575.0 45.4h16v16h-16zM576.0 45.4h16v16h-16zM577.0 45.4h16v16h-16zM578.0 45.5h16v16h-16zM579.0 45.5h16v16h-16zM580.0 45.5h16v16h-16zM581.0 45.5h16v16h-16zM582.0 45.5h16v16h-16zM583.0 45.5h16v16h-16zM584.0 45.6h16v16h-16zM585.1 45.6h16v16h-16zM586.1 45.7h16v16h-16zM587.1 45.8h16v16h-16zM588.2 45.9h16v16h-16zM589.2 45.9h16v16h-16zM590.2 46.0h16v16h-16zM591.3 46.1h16v16h-16zM592.3 46.1h16v16h-16zM593.4 46.2h16v16h-16zM594.4 46.3h16v16h-16zM595.4 46.3h16v16h-16zM596.5 46.4h16v16h-16zM597.5 46.5h16v16h-16zM598.5 46.6h16v16h-16zM599.6 46.6h16v16h-16zM600.6 46.7h16v16h-16zM601.6 46.8h16v16h-16zM602.6 46.9h16v16h-16zM603.6 47.0h16v16h-16zM604.6 47.1h16v16h-16zM605.6 47.3h16v16h-16zM606.6 47.4h16v16h-16zM607.6 47.5h16v16h-16zM608.6 47.6h16v16h-16zM609.7 47.7h16v16h-16zM610.7 47.8h16v16h-16zM611.7 47.9h16v16h-16zM612.7 48.0h16v16h-16zM613.7 48.2h16v16h-16zM614.7 48.3h16v16h-16zM615.7 48.4h16v16h-16zM616.7 48.5h16v16h-16zM617.7 48.6h16v16h-16zM618.7 48.7h16v16h-16zM619.7 48.8h16v16h-16zM620.7 49.0h16v16h-16zM621.7 49.1h16v16h-16zM622.8 49.2h16v16h-16zM623.8 49.3h16v16h-16zM624.8 49.4h16v16h-16zM625.8 49.5h16v16h-16zM626.8 49.7h16v16h-16zM627.8 49.8h16v16h-16zM628.8 49.9h16v16h-16zM629.8 50.0h16v16h-16zM630.9 50.1h16v16h-16zM631.9 50.2h16v16h-16zM632.9 50.4h16v16h-16zM633.9 50.5h16v16h-16zM634.9 50.6h16v16h-16zM635.9 50.7h16v16h-16zM636.9 50.8h16v16h-16zM637.9 50.8h16v16h-16zM638.9 50.9h16v16h-16zM639.9 51.0h16v16h-16zM640.9 51.1h16v16h-16zM641.9 51.1h16v16h-16zM642.9 51.2h16v16h-16zM644.0 51.3h16v16h-16zM645.0 51.4h16v16h-16zM646.0 51.4h16v16h-16zM647.0 51.5h16v16h-16zM648.0 51.6h16v16h-16zM649.0 51.7h16v16h-16zM650.0 51.7h16v16h-16zM651.0 51.8h16v16h-16zM652.0 51.9h16v16h-16zM653.0 51.8h16v16h-16zM654.0 51.8h16v16h-16zM655.0 51.7h16v16h-16zM656.0 51.7h16v16h-16zM657.0 51.6h16v16h-16zM658.0 51.6h16v16h-16zM659.0 51.5h16v16h-16zM660.0 51.5h16v16h-16zM661.1 51.4h16v16h-16zM662.1 51.4h16v16h-16zM663.1 51.3h16v16h-16zM664.1 51.3h16v16h-16zM665.1 51.2h16v16h-16zM666.1 51.2h16v16h-16zM667.1 51.1h16v16h-16zM668.1 51.1h16v16h-16zM669.1 51.0h16v16h-16zM670.1 50.9h16v16h-16zM671.1 50.8h16v16h-16zM672.1 50.7h16v16h-16zM673.1 50.6h16v16h-16zM674.2 50.4h16v16h-16zM675.2 50.3h16v16h-16zM676.2 50.2h16v16h-16zM677.2 50.1h16v16h-16zM678.2 50.0h16v16h-16zM679.2 49.9h16v16h-16zM680.2 49.8h16v16h-16zM681.2 49.7h16v16h-16zM682.3 49.5h16v16h-16zM683.3 49.4h16v16h-16zM684.3 49.3h16v16h-16zM685.3 49.2h16v16h-16zM686.3 49.1h16v16h-16zM687.3 49.0h16v16h-16zM688.3 48.9h16v16h-16zM689.3 48.8h16v16h-16zM690.3 48.7h16v16h-16zM691.3 48.6h16v16h-16zM692.3 48.5h16v16h-16zM693.3 48.4h16v16h-16zM694.3 48.3h16v16h-16zM695.4 48.2h16v16h-16zM696.4 48.1h16v16h-16zM697.4 48.0h16v16h-16zM698.4 47.9h16v16h-16zM699.4 47.8h16v16h-16zM700.4 47.7h16v16h-16zM701.4 47.6h16v16h-16zM702.4 47.5h16v16h-16zM703.4 47.4h16v16h-16zM704.4 47.3h16v16h-16zM705.4 47.2h16v16h-16zM706.4 47.1h16v16h-16zM707.4 47.0h16v16h-16zM708.5 47.0h16v16h-16zM709.5 46.9h16v16h-16zM710.5 46.8h16v16h-16zM711.5 46.7h16v16h-16zM712.5 46.6h16v16h-16zM713.5 46.5h16v16h-16zM714.5 46.4h16v16h-16zM715.5 46.3h16v16h-16zM716.6 46.3h16v16h-16zM717.6 46.2h16v16h-16zM718.6 46.1h16v16h-16zM719.6 46.0h16v16h-16zM720.6 45.9h16v16h-16zM721.6 45.9h16v16h-16zM722.6 45.8h16v16h-16zM723.6 45.8h16v16h-16zM724.6 45.7h16v16h-16zM725.6 45.7h16v16h-16zM726.6 45.7h16v16h-16zM727.6 45.6h16v16h-16zM728.6 45.6h16v16h-16zM729.7 45.5h16v16h-16zM730.7 45.5h16v16h-16zM731.7 45.4h16v16h-16zM732.7 45.4h16v16h-16zM733.7 45.4h16v16h-16zM734.7 45.3h16v16h-16zM735.7 45.3h16v16h-16zM736.7 45.2h16v16h-16zM737.7 45.2h16v16h-16zM738.7 45.3h16v16h-16zM739.7 45.5h16v16h-16zM740.7 45.6h16v16h-16zM741.7 45.7h16v16h-16zM742.8 45.8h16v16h-16zM743.8 46.0h16v16h-16zM744.8 46.1h16v16h-16zM745.8 46.2h16v16h-16zM746.8 46.4h16v16h-16zM747.8 46.5h16v16h-16zM748.8 46.6h16v16h-16zM749.8 46.8h16v16h-16zM750.9 46.9h16v16h-16zM751.9 47.0h16v16h-16zM752.9 47.1h16v16h-16zM753.9 47.3h16v16h-16zM754.9 47.4h16v16h-16zM755.9 47.5h16v16h-16zM756.9 47.5h16v16h-16zM757.9 47.6h16v16h-16zM758.9 47.7h16v16h-16zM759.9 47.8h16v16h-16zM760.9 47.8h16v16h-16zM761.9 47.9h16v16h-16zM762.9 48.0h16v16h-16zM764.0 48.0h16v16h-16zM765.0 48.1h16v16h-16zM766.0 48.2h16v16h-16zM767.0 48.2h16v16h-16zM768.0 48.3h16v16h-16zM769.0 48.4h16v16h-16zM770.0 48.5h16v16h-16zM771.0 48.5h16v16h-16zM772.0 48.6h16v16h-16zM773.0 48.6h16v16h-16zM774.0 48.7h16v16h-16zM775.0 48.7h16v16h-16zM776.0 48.7h16v16h-16zM777.1 48.8h16v16h-16zM778.1 48.8h16v16h-16zM779.1 48.8h16v16h-16zM780.1 48.9h16v16h-16zM781.1 48.9h16v16h-16zM782.1 48.9h16v16h-16zM783.1 49.0h16v16h-16zM784.1 49.0h16v16h-16zM785.2 49.0h16v16h-16zM786.2 49.1h16v16h-16zM787.2 49.1h16v16h-16zM788.2 49.1h16v16h-16zM789.2 49.2h16v16h-16zM790.2 49.2h16v16h-16zM791.2 49.2h16v16h-16zM792.2 49.3h16v16h-16zM793.3 49.3h16v16h-16zM794.3 49.3h16v16h-16zM795.3 49.4h16v16h-16zM796.3 49.4h16v16h-16zM797.3 49.5h16v16h-16zM798.3 49.5h16v16h-16zM799.3 49.6h16v16h-16zM800.3 49.6h16v16h-16zM801.3 49.7h16v16h-16zM802.3 49.7h16v16h-16zM803.3 49.8h16v16h-16zM804.4 49.9h16v16h-16zM805.4 49.9h16v16h-16zM806.4 50.0h16v16h-16zM807.4 50.0h16v16h-16zM808.4 50.1h16v16h-16zM809.4 50.1h16v16h-16zM810.4 50.2h16v16h-16zM811.4 50.3h16v16h-16zM812.4 50.3h16v16h-16zM813.4 50.4h16v16h-16zM814.4 50.4h16v16h-16zM815.4 50.5h16v16h-16zM816.4 50.5h16v16h-16zM817.4 50.6h16v16h-16zM818.5 50.6h16v16h-16zM819.5 50.7h16v16h-16zM820.5 50.8h16v16h-16zM821.5 50.8h16v16h-16zM822.5 50.9h16v16h-16zM823.5 50.9h16v16h-16zM824.5 51.0h16v16h-16zM825.5 51.0h16v16h-16zM826.5 51.1h16v16h-16zM827.5 51.2h16v16h-16zM828.5 51.2h16v16h-16zM829.5 51.3h16v16h-16zM830.5 51.3h16v16h-16zM831.5 51.4h16v16h-16zM832.5 51.4h16v16h-16zM833.6 51.5h16v16h-16zM834.6 51.6h16v16h-16zM835.6 51.6h16v16h-16zM836.6 51.7h16v16h-16zM837.6 51.7h16v16h-16zM838.6 51.8h16v16h-16zM839.6 51.8h16v16h-16zM840.6 51.9h16v16h-16zM841.6 52.0h16v16h-16zM842.7 52.0h16v16h-16zM843.7 52.1h16v16h-16zM844.7 52.1h16v16h-16zM845.7 52.2h16v16h-16zM846.8 52.3h16v16h-16zM847.8 52.3h16v16h-16zM848.8 52.4h16v16h-16zM849.9 52.4h16v16h-16zM850.9 52.5h16v16h-16zM851.9 52.6h16v16h-16zM852.9 52.6h16v16h-16zM854.0 52.7h16v16h-16zM855.0 52.8h16v16h-16zM856.0 52.8h16v16h-16zM857.1 52.9h16v16h-16zM858.1 52.9h16v16h-16zM859.1 53.0h16v16h-16zM860.1 53.1h16v16h-16zM861.2 53.1h16v16h-16zM862.2 53.2h16v16h-16zM863.2 53.2h16v16h-16zM864.3 53.3h16v16h-16zM865.3 53.4h16v16h-16zM866.3 53.4h16v16h-16zM867.3 53.5h16v16h-16zM868.4 53.5h16v16h-16zM869.4 53.6h16v16h-16zM870.4 53.6h16v16h-16zM871.4 53.6h16v16h-16zM872.4 53.6h16v16h-16zM873.5 53.6h16v16h-16zM874.5 53.6h16v16h-16zM875.5 53.6h16v16h-16zM876.5 53.6h16v16h-16zM877.5 53.6h16v16h-16zM878.5 53.6h16v16h-16zM879.6 53.6h16v16h-16zM880.6 53.6h16v16h-16zM881.6 53.6h16v16h-16zM882.6 53.6h16v16h-16zM883.6 53.6h16v16h-16zM884.6 53.6h16v16h-16zM885.7 53.6h16v16h-16zM886.7 53.6h16v16h-16zM887.7 53.6h16v16h-16zM888.7 53.6h16v16h-16zM889.7 53.6h16v16h-16zM890.7 53.6h16v16h-16zM891.8 53.6h16v16h-16zM892.8 53.6h16v16h-16zM893.8 53.6h16v16h-16zM894.8 53.6h16v16h-16zM895.8 53.6h16v16h-16zM896.8 53.6h16v16h-16zM897.9 53.6h16v16h-16zM898.9 53.6h16v16h-16zM899.9 53.6h16v16h-16zM900.9 53.6h16v16h-16zM901.9 53.6h16v16h-16zM902.9 53.6h16v16h-16zM904.0 53.6h16v16h-16zM905.0 53.6h16v16h-16zM906.0 53.6h16v16h-16zM907.0 53.6h16v16h-16zM908.0 53.6h16v16h-16zM909.0 53.6h16v16h-16zM910.0 53.6h16v16h-16zM911.0 53.6h16v16h-16zM912.0 53.7h16v16h-16zM913.0 53.7h16v16h-16zM914.0 53.7h16v16h-16zM915.1 53.7h16v16h-16zM916.1 53.7h16v16h-16zM917.1 53.7h16v16h-16zM918.1 53.7h16v16h-16zM919.1 53.7h16v16h-16zM920.1 53.7h16v16h-16zM921.1 53.8h16v16h-16zM922.1 53.8h16v16h-16zM923.1 53.8h16v16h-16zM924.1 53.8h16v16h-16zM925.1 53.8h16v16h-16zM926.1 53.8h16v16h-16zM927.1 53.8h16v16h-16zM928.1 53.8h16v16h-16zM929.1 53.9h16v16h-16zM930.2 53.9h16v16h-16zM931.2 53.9h16v16h-16zM932.2 53.9h16v16h-16zM933.2 53.9h16v16h-16zM934.2 53.9h16v16h-16zM935.2 53.9h16v16h-16zM936.2 53.9h16v16h-16zM937.2 53.9h16v16h-16zM938.2 54.0h16v16h-16zM939.2 54.0h16v16h-16zM940.2 54.0h16v16h-16zM941.2 54.0h16v16h-16zM942.2 54.0h16v16h-16zM943.2 54.0h16v16h-16zM944.3 54.0h16v16h-16zM945.3 54.0h16v16h-16zM946.3 54.0h16v16h-16zM947.3 54.1h16v16h-16zM948.3 54.1h16v16h-16zM949.3 54.1h16v16h-16zM950.3 54.1h16v16h-16zM951.3 54.1h16v16h-16zM952.3 54.1h16v16h-16zM953.3 54.1h16v16h-16zM954.3 54.2h16v16h-16zM955.3 54.2h16v16h-16zM956.3 54.2h16v16h-16zM957.3 54.2h16v16h-16zM958.3 54.2h16v16h-16zM959.4 54.3h16v16h-16zM960.4 54.3h16v16h-16zM961.4 54.3h16v16h-16zM962.4 54.3h16v16h-16zM963.4 54.3h16v16h-16zM964.4 54.4h16v16h-16zM965.4 54.4h16v16h-16zM966.4 54.4h16v16h-16zM967.4 54.4h16v16h-16zM968.4 54.4h16v16h-16zM969.4 54.5h16v16h-16zM970.4 54.5h16v16h-16zM971.4 54.5h16v16h-16zM972.4 54.5h16v16h-16zM973.5 54.5h16v16h-16zM974.5 54.6h16v16h-16zM975.5 54.6h16v16h-16zM976.5 54.6h16v16h-16zM977.5 54.6h16v16h-16zM978.5 54.7h16v16h-16zM979.5 54.7h16v16h-16zM980.5 54.7h16v16h-16zM981.5 54.7h16v16h-16zM982.5 54.7h16v16h-16zM983.5 54.8h16v16h-16zM984.5 54.8h16v16h-16zM985.5 54.8h16v16h-16zM986.5 54.8h16v16h-16zM987.5 54.8h16v16h-16zM988.6 54.9h16v16h-16zM989.6 54.9h16v16h-16zM990.6 54.9h16v16h-16zM991.6 54.9h16v16h-16zM992.6 54.9h16v16h-16zM993.6 55.0h16v16h-16zM994.6 55.0h16v16h-16zM995.6 55.0h16v16h-16zM996.6 55.1h16v16h-16zM997.6 55.1h16v16h-16zM998.6 55.2h16v16h-16zM999.6 55.2h16v16h-16zM1000.6 55.3h16v16h-16zM1001.6 55.3h16v16h-16zM1002.6 55.4h16v16h-16zM1003.7 55.5h16v16h-16zM1004.7 55.5h16v16h-16zM1005.7 55.6h16v16h-16zM1006.7 55.6h16v16h-16zM1007.7 55.7h16v16h-16zM1008.7 55.7h16v16h-16zM1009.7 55.8h16v16h-16zM1010.7 55.9h16v16h-16zM1011.7 55.9h16v16h-16zM1012.7 56.0h16v16h-16zM1013.7 56.0h16v16h-16zM1014.7 56.1h16v16h-16zM1015.7 56.1h16v16h-16zM1016.7 56.2h16v16h-16zM1017.8 56.2h16v16h-16zM1018.8 56.3h16v16h-16zM1019.8 56.4h16v16h-16zM1020.8 56.4h16v16h-16zM1021.8 56.5h16v16h-16zM1022.8 56.5h16v16h-16zM1023.8 56.6h16v16h-16zM1024.8 56.6h16v16h-16zM1025.8 56.7h16v16h-16zM1026.8 56.8h16v16h-16zM1027.8 56.8h16v16h-16zM1028.8 56.9h16v16h-16zM1029.8 56.9h16v16h-16zM1030.8 57.0h16v16h-16zM1031.8 57.0h16v16h-16zM1032.9 57.1h16v16h-16zM1033.9 57.2h16v16h-16zM1034.9 57.2h16v16h-16zM1035.9 57.3h16v16h-16zM1036.9 57.3h16v16h-16zM1037.9 57.4h16v16h-16zM1038.9 57.4h16v16h-16zM1039.9 57.5h16v16h-16zM1040.9 57.5h16v16h-16zM1041.9 57.5h16v16h-16zM1042.9 57.6h16v16h-16zM1043.9 57.6h16v16h-16zM1044.9 57.6h16v16h-16zM1045.9 57.6h16v16h-16zM1046.9 57.7h16v16h-16zM1047.9 57.7h16v16h-16zM1048.9 57.7h16v16h-16zM1049.9 57.7h16v16h-16zM1051.0 57.8h16v16h-16zM1052.0 57.8h16v16h-16zM1053.0 57.8h16v16h-16zM1054.0 57.8h16v16h-16zM1055.0 57.8h16v16h-16zM1056.0 57.9h16v16h-16zM1057.0 57.9h16v16h-16zM1058.0 57.9h16v16h-16zM1059.0 57.9h16v16h-16zM1060.0 58.0h16v16h-16zM1061.0 58.0h16v16h-16zM1062.0 58.0h16v16h-16zM1063.0 58.0h16v16h-16zM1064.0 58.0h16v16h-16zM1065.1 58.0h16v16h-16zM1066.1 58.0h16v16h-16zM1067.1 58.0h16v16h-16zM1068.1 58.0h16v16h-16zM1069.1 58.0h16v16h-16zM1070.2 58.0h16v16h-16zM1071.2 58.0h16v16h-16zM1072.2 58.0h16v16h-16zM1073.2 58.0h16v16h-16zM1074.2 58.0h16v16h-16zM1075.3 58.0h16v16h-16zM1076.3 58.0h16v16h-16zM1077.3 58.0h16v16h-16zM1078.3 58.0h16v16h-16zM1079.3 58.0h16v16h-16zM1080.4 57.9h16v16h-16zM1081.4 57.9h16v16h-16zM1082.4 57.9h16v16h-16zM1083.4 57.9h16v16h-16zM1084.4 57.9h16v16h-16zM1085.5 57.9h16v16h-16zM1086.5 57.9h16v16h-16zM1087.5 57.9h16v16h-16zM1088.5 57.9h16v16h-16zM1089.5 57.9h16v16h-16zM1090.6 57.9h16v16h-16zM1091.6 57.9h16v16h-16zM1092.6 57.9h16v16h-16zM1093.6 57.9h16v16h-16zM1094.6 57.9h16v16h-16zM1095.7 57.9h16v16h-16zM1096.7 57.9h16v16h-16zM1097.7 57.9h16v16h-16zM1098.7 57.9h16v16h-16zM1099.8 57.9h16v16h-16zM1100.8 57.9h16v16h-16zM1101.9 57.9h16v16h-16zM1102.9 57.9h16v16h-16zM1103.9 58.0h16v16h-16zM1105.0 58.0h16v16h-16zM1106.0 58.0h16v16h-16zM1107.1 58.0h16v16h-16zM1108.1 58.0h16v16h-16zM1109.2 58.0h16v16h-16zM1110.2 58.0h16v16h-16zM1111.2 58.0h16v16h-16zM1112.3 58.0h16v16h-16zM1113.3 58.0h16v16h-16zM1114.4 58.0h16v16h-16zM1115.4 58.1h16v16h-16zM1116.4 58.1h16v16h-16zM1117.5 58.1h16v16h-16zM1118.5 58.1h16v16h-16zM1119.6 58.1h16v16h-16zM1120.6 58.1h16v16h-16zM1121.6 58.2h16v16h-16zM1122.7 58.3h16v16h-16zM1123.7 58.3h16v16h-16zM1124.7 58.4h16v16h-16zM1125.8 58.5h16v16h-16zM1126.8 58.6h16v16h-16zM1127.9 58.7h16v16h-16zM1128.9 58.8h16v16h-16zM1129.9 58.8h16v16h-16zM1131.0 58.9h16v16h-16zM1132.0 59.0h16v16h-16zM1133.0 59.1h16v16h-16zM1134.1 59.2h16v16h-16zM1135.1 59.2h16v16h-16zM1136.1 59.3h16v16h-16zM1137.2 59.4h16v16h-16zM1138.2 59.5h16v16h-16zM1139.3 59.6h16v16h-16zM1140.3 59.7h16v16h-16zM1141.3 59.7h16v16h-16zM1142.4 59.8h16v16h-16zM1143.4 59.9h16v16h-16zM1144.4 60.0h16v16h-16zM1145.5 60.0h16v16h-16zM1146.5 60.1h16v16h-16zM1147.6 60.1h16v16h-16zM1148.6 60.2h16v16h-16zM1149.6 60.2h16v16h-16zM1150.7 60.2h16v16h-16zM1151.7 60.3h16v16h-16zM1152.8 60.4h16v16h-16zM1153.8 60.4h16v16h-16zM1154.8 60.5h16v16h-16zM1155.9 60.5h16v16h-16zM1156.9 60.5h16v16h-16zM1158.0 60.6h16v16h-16zM1159.0 60.7h16v16h-16zM1160.1 60.7h16v16h-16zM1161.1 60.8h16v16h-16zM1162.1 60.8h16v16h-16zM1163.2 60.8h16v16h-16zM1164.2 60.9h16v16h-16zM1165.3 61.0h16v16h-16zM1166.3 61.0h16v16h-16zM1167.3 61.0h16v16h-16zM1168.4 61.0h16v16h-16zM1169.4 61.0h16v16h-16zM1170.4 61.1h16v16h-16zM1171.5 61.1h16v16h-16zM1172.5 61.1h16v16h-16zM1173.6 61.1h16v16h-16zM1174.6 61.1h16v16h-16zM1175.6 61.1h16v16h-16zM1176.7 61.1h16v16h-16zM1177.7 61.2h16v16h-16zM1178.7 61.2h16v16h-16zM1179.8 61.2h16v16h-16zM1180.8 61.2h16v16h-16zM1181.8 61.2h16v16h-16zM1182.9 61.2h16v16h-16zM1183.9 61.2h16v16h-16zM1185.0 61.2h16v16h-16zM1186.0 61.3h16v16h-16zM1187.0 61.3h16v16h-16zM1188.1 61.3h16v16h-16zM1189.1 61.3h16v16h-16zM1190.1 61.3h16v16h-16zM1191.2 61.2h16v16h-16zM1192.2 61.2h16v16h-16zM1193.3 61.2h16v16h-16zM1194.3 61.2h16v16h-16zM1195.3 61.1h16v16h-16zM1196.4 61.1h16v16h-16zM1197.4 61.1h16v16h-16zM1198.5 61.1h16v16h-16zM1199.5 61.0h16v16h-16zM1200.5 61.0h16v16h-16zM1201.6 61.0h16v16h-16zM1202.6 60.9h16v16h-16zM1203.7 60.9h16v16h-16zM1204.7 60.9h16v16h-16zM1205.8 60.9h16v16h-16zM1206.8 60.8h16v16h-16zM1207.8 60.8h16v16h-16zM1208.9 60.8h16v16h-16zM1209.9 60.8h16v16h-16zM1211.0 60.7h16v16h-16zM1212.0 60.7h16v16h-16zM1213.0 60.6h16v16h-16zM1214.1 60.6h16v16h-16zM1215.1 60.5h16v16h-16zM1216.2 60.5h16v16h-16zM1217.2 60.4h16v16h-16zM1218.2 60.4h16v16h-16zM1219.3 60.3h16v16h-16zM1220.3 60.3h16v16h-16zM1221.4 60.2h16v16h-16zM1222.4 60.2h16v16h-16zM1223.5 60.1h16v16h-16zM1224.5 60.0h16v16h-16zM1225.5 60.0h16v16h-16zM1226.6 59.9h16v16h-16zM1227.6 59.9h16v16h-16zM1228.7 59.8h16v16h-16zM1229.7 59.8h16v16h-16zM1230.7 59.7h16v16h-16zM1231.8 59.7h16v16h-16zM1232.8 59.6h16v16h-16zM1233.9 59.6h16v16h-16zM1234.9 59.5h16v16h-16zM1235.9 59.4h16v16h-16zM1237.0 59.3h16v16h-16zM1238.0 59.3h16v16h-16zM1239.0 59.2h16v16h-16zM1240.1 59.1h16v16h-16zM1241.1 59.0h16v16h-16zM1242.2 58.9h16v16h-16zM1243.2 58.8h16v16h-16zM1244.2 58.8h16v16h-16zM1245.3 58.7h16v16h-16zM1246.3 58.6h16v16h-16zM1247.3 58.5h16v16h-16zM1248.4 58.4h16v16h-16zM1249.4 58.4h16v16h-16zM1250.4 58.3h16v16h-16zM1251.5 58.2h16v16h-16zM1252.5 58.1h16v16h-16zM1253.6 58.0h16v16h-16zM1254.6 57.9h16v16h-16zM1255.6 57.9h16v16h-16zM1256.7 57.8h16v16h-16zM1257.7 57.7h16v16h-16zM1258.7 57.6h16v16h-16zM1259.8 57.5h16v16h-16zM1260.8 57.4h16v16h-16zM1261.9 57.3h16v16h-16zM1262.9 57.2h16v16h-16zM1263.9 57.1h16v16h-16zM1265.0 57.0h16v16h-16zM1266.0 56.9h16v16h-16zM1267.1 56.8h16v16h-16zM1268.1 56.7h16v16h-16zM1269.2 56.7h16v16h-16zM1270.2 56.6h16v16h-16zM1271.2 56.5h16v16h-16zM1272.3 56.4h16v16h-16zM1273.3 56.3h16v16h-16zM1274.4 56.2h16v16h-16zM1275.4 56.1h16v16h-16zM1276.4 56.0h16v16h-16zM1277.5 55.9h16v16h-16zM1278.5 55.8h16v16h-16zM1279.6 55.7h16v16h-16zM1280.6 55.6h16v16h-16zM1281.6 55.5h16v16h-16zM1282.7 55.4h16v16h-16zM1283.7 55.3h16v16h-16zM1284.7 55.2h16v16h-16zM1285.8 55.1h16v16h-16zM1286.8 55.0h16v16h-16zM1287.9 54.9h16v16h-16zM1288.9 54.8h16v16h-16zM1289.9 54.7h16v16h-16zM1291.0 54.6h16v16h-16zM1292.0 54.5h16v16h-16zM1293.0 54.3h16v16h-16zM1294.1 54.2h16v16h-16zM1295.1 54.1h16v16h-16zM1296.1 54.0h16v16h-16zM1297.2 53.9h16v16h-16zM1298.2 53.8h16v16h-16zM1299.3 53.7h16v16h-16zM1300.3 53.6h16v16h-16zM1301.3 53.5h16v16h-16zM1302.4 53.4h16v16h-16zM1303.4 53.3h16v16h-16zM1304.4 53.2h16v16h-16zM1305.5 53.1h16v16h-16zM1306.5 53.0h16v16h-16zM1307.6 52.9h16v16h-16zM1308.6 52.8h16v16h-16zM1309.6 52.8h16v16h-16zM1310.7 52.7h16v16h-16zM1311.7 52.6h16v16h-16zM1312.8 52.5h16v16h-16zM1313.8 52.4h16v16h-16zM1314.8 52.3h16v16h-16zM1315.9 52.2h16v16h-16zM1316.9 52.1h16v16h-16zM1318.0 52.0h16v16h-16zM1319.0 51.9h16v16h-16zM1320.1 51.8h16v16h-16zM1321.1 51.8h16v16h-16zM1322.1 51.7h16v16h-16zM1323.2 51.6h16v16h-16zM1324.2 51.5h16v16h-16zM1325.3 51.4h16v16h-16zM1326.3 51.3h16v16h-16zM1327.3 51.2h16v16h-16zM1328.4 51.2h16v16h-16zM1329.4 51.1h16v16h-16zM1330.4 51.0h16v16h-16zM1331.5 51.0h16v16h-16zM1332.5 50.9h16v16h-16zM1333.6 50.9h16v16h-16zM1334.6 50.8h16v16h-16zM1335.6 50.7h16v16h-16zM1336.7 50.7h16v16h-16zM1337.7 50.6h16v16h-16zM1338.7 50.5h16v16h-16zM1339.8 50.5h16v16h-16zM1340.8 50.4h16v16h-16zM1341.8 50.3h16v16h-16zM1342.9 50.3h16v16h-16zM1343.9 50.2h16v16h-16zM1345.0 50.2h16v16h-16zM1346.0 50.1h16v16h-16zM1347.0 50.0h16v16h-16zM1348.1 50.0h16v16h-16zM1349.1 49.9h16v16h-16zM1350.1 49.9h16v16h-16zM1351.2 49.8h16v16h-16zM1352.2 49.8h16v16h-16zM1353.3 49.7h16v16h-16zM1354.3 49.6h16v16h-16zM1355.4 49.6h16v16h-16zM1356.5 49.5h16v16h-16zM1357.5 49.5h16v16h-16zM1358.5 49.5h16v16h-16zM1359.6 49.4h16v16h-16zM1360.6 49.4h16v16h-16zM1361.7 49.3h16v16h-16zM1362.8 49.2h16v16h-16zM1363.8 49.2h16v16h-16zM1364.8 49.1h16v16h-16zM1365.9 49.1h16v16h-16zM1367.0 49.0h16v16h-16zM1368.0 49.0h16v16h-16zM150 177.2H162.66V179.4H150z" fill="#000"/>
</g>
<rect x="155.1" y="13.0" width="1220.2" height="900.7" fill="none" stroke="#000" stroke-width="3.3"/>
<path d="M137.4 40.30H155.1M137.4 171.50H155.1M137.4 304.10H155.1M137.4 436.70H155.1M137.4 569.30H155.1M137.4 702.00H155.1M137.4 834.70H155.1M146.6 105.90H155.1M146.6 237.80H155.1M146.6 370.40H155.1M146.6 503.00H155.1M146.6 635.65H155.1M146.6 768.35H155.1M146.6 901.00H155.1M254.40 913.7V931.8M378.80 913.7V931.8M503.20 913.7V931.8M628.80 913.7V931.8M753.10 913.7V931.8M877.50 913.7V931.8M1001.90 913.7V931.8M1126.40 913.7V931.8M1250.70 913.7V931.8M1375.30 913.7V931.8M192.03 913.7V922M316.60 913.7V922M441.00 913.7V922M566.00 913.7V922M690.95 913.7V922M815.30 913.7V922M939.70 913.7V922M1064.15 913.7V922M1188.55 913.7V922M1313.00 913.7V922" stroke="#000" stroke-width="2.6" stroke-linecap="round" fill="none"/>
<rect x="92.40" y="171.90" width="11.7" height="2.6" fill="#000"/>
<rect x="75.76" y="304.30" width="11.7" height="2.6" fill="#000"/>
<rect x="75.41" y="436.70" width="11.7" height="2.6" fill="#000"/>
<rect x="73.11" y="569.10" width="11.7" height="2.6" fill="#000"/>
<rect x="72.75" y="701.50" width="11.7" height="2.6" fill="#000"/>
<rect x="72.93" y="833.90" width="11.7" height="2.6" fill="#000"/>
<rect x="1037.8" y="702.1" width="312.5" height="143.5" fill="#000"/>
<rect x="1025.25" y="690.7" width="309.8" height="141.5" fill="#fff" stroke="#000" stroke-width="2.4"/>
<path d="M1040.4 725.9H1072M1107.1 725.9H1138.7" stroke="#222" stroke-width="1.5"/>
<rect x="1082.1" y="717.3" width="16.4" height="16.1" fill="#000"/>
<path d="M1040.4 793H1072M1107.1 793H1138.7" stroke="#b03030" stroke-width="1.5"/>
<circle cx="1090.1" cy="792.3" r="9.5" fill="#ff0000"/>
<g id="txt"><g transform="matrix(35.400 0 0 34.700 104.67 48.65)" fill="#000"><text x="0" y="0" font-weight="bold" font-size="1">0</text></g><g transform="matrix(35.400 0 0 34.700 104.14 181.05)" fill="#000"><text x="0" y="0" font-weight="bold" font-size="1">5</text></g><g transform="matrix(35.400 0 0 34.700 84.85 313.45)" fill="#000"><path transform="translate(0.000 0)" d="M0.41 0V-0.688H0.318C0.29 -0.635 0.2 -0.578 0.105 -0.538V-0.432C0.175 -0.458 0.24 -0.497 0.29 -0.54V0Z"/><text x="0.556" y="0" font-weight="bold" font-size="1">0</text></g><g transform="matrix(35.400 0 0 34.700 84.49 445.85)" fill="#000"><path transform="translate(0.000 0)" d="M0.41 0V-0.688H0.318C0.29 -0.635 0.2 -0.578 0.105 -0.538V-0.432C0.175 -0.458 0.24 -0.497 0.29 -0.54V0Z"/><text x="0.556" y="0" font-weight="bold" font-size="1">5</text></g><g transform="matrix(35.400 0 0 34.700 84.85 578.25)" fill="#000"><text x="0" y="0" font-weight="bold" font-size="1">20</text></g><g transform="matrix(35.400 0 0 34.700 84.49 710.65)" fill="#000"><text x="0" y="0" font-weight="bold" font-size="1">25</text></g><g transform="matrix(35.400 0 0 34.700 84.84 843.05)" fill="#000"><text x="0" y="0" font-weight="bold" font-size="1">30</text></g><g transform="matrix(35.000 0 0 35.000 244.15 970.85)" fill="#000"><text x="0" y="0" font-weight="bold" font-size="1">5</text></g><g transform="matrix(35.000 0 0 35.000 357.70 970.85)" fill="#000"><path transform="translate(0.000 0)" d="M0.41 0V-0.688H0.318C0.29 -0.635 0.2 -0.578 0.105 -0.538V-0.432C0.175 -0.458 0.24 -0.497 0.29 -0.54V0Z"/><text x="0.556" y="0" font-weight="bold" font-size="1">0</text></g><g transform="matrix(35.000 0 0 35.000 481.93 970.85)" fill="#000"><path transform="translate(0.000 0)" d="M0.41 0V-0.688H0.318C0.29 -0.635 0.2 -0.578 0.105 -0.538V-0.432C0.175 -0.458 0.24 -0.497 0.29 -0.54V0Z"/><text x="0.556" y="0" font-weight="bold" font-size="1">5</text></g><g transform="matrix(35.000 0 0 35.000 609.01 970.85)" fill="#000"><text x="0" y="0" font-weight="bold" font-size="1">20</text></g><g transform="matrix(35.000 0 0 35.000 733.14 970.85)" fill="#000"><text x="0" y="0" font-weight="bold" font-size="1">25</text></g><g transform="matrix(35.000 0 0 35.000 857.80 970.85)" fill="#000"><text x="0" y="0" font-weight="bold" font-size="1">30</text></g><g transform="matrix(35.000 0 0 35.000 982.02 970.85)" fill="#000"><text x="0" y="0" font-weight="bold" font-size="1">35</text></g><g transform="matrix(35.000 0 0 35.000 1106.88 970.85)" fill="#000"><text x="0" y="0" font-weight="bold" font-size="1">40</text></g><g transform="matrix(35.000 0 0 35.000 1231.00 970.85)" fill="#000"><text x="0" y="0" font-weight="bold" font-size="1">45</text></g><g transform="matrix(35.000 0 0 35.000 1355.51 970.85)" fill="#000"><text x="0" y="0" font-weight="bold" font-size="1">50</text></g><g transform="matrix(41.508 0 0 42.353 548.70 1030.31)" fill="#000"  stroke="#000" stroke-width="0.0143" stroke-linejoin="round"><text x="0" y="0" font-weight="bold" font-size="1">Frequency (GHz)</text></g><g transform="rotate(-90)"><g transform="matrix(42.167 0 0 50.563 -581.76 43.09)" fill="#000"  stroke="#000" stroke-width="0.0259" stroke-linejoin="round"><text x="0" y="0" font-weight="bold" font-size="1">S</text></g></g><g transform="rotate(-90)"><g transform="matrix(25.638 0 0 28.286 -551.17 60.50)" fill="#000"  stroke="#000" stroke-width="0.0334" stroke-linejoin="round"><text x="0.000" y="0" font-weight="bold" font-size="1">2</text><path transform="translate(0.556 0)" d="M0.41 0V-0.688H0.318C0.29 -0.635 0.2 -0.578 0.105 -0.538V-0.432C0.175 -0.458 0.24 -0.497 0.29 -0.54V0Z"/></g></g><g transform="rotate(-90)"><g transform="matrix(45.263 0 0 46.738 -508.26 42.49)" fill="#000"  stroke="#000" stroke-width="0.0196" stroke-linejoin="round"><text x="0" y="0" font-weight="bold" font-size="1">(dB)</text></g></g><g transform="matrix(39.333 0 0 41.831 1150.92 739.28)" fill="#000" ><text x="0" y="0" font-weight="bold" font-size="1">S</text></g><g transform="matrix(25.341 0 0 23.429 1179.03 756.60)" fill="#000"  stroke="#000" stroke-width="0.0246" stroke-linejoin="round"><text x="0.000" y="0" font-weight="normal" font-size="1">2</text><path transform="translate(0.556 0)" d="M0.372 0V-0.688H0.315C0.29 -0.638 0.2 -0.585 0.12 -0.55V-0.465C0.18 -0.49 0.245 -0.53 0.285 -0.565V0Z"/></g><g transform="matrix(42.578 0 0 42.000 1217.45 739.08)" fill="#000" ><text x="0" y="0" font-weight="bold" font-size="1">up</text></g><g transform="matrix(39.333 0 0 41.831 1150.92 807.88)" fill="#000" ><text x="0" y="0" font-weight="bold" font-size="1">S</text></g><g transform="matrix(25.341 0 0 23.000 1179.03 824.40)" fill="#000"  stroke="#000" stroke-width="0.0248" stroke-linejoin="round"><text x="0.000" y="0" font-weight="normal" font-size="1">2</text><path transform="translate(0.556 0)" d="M0.372 0V-0.688H0.315C0.29 -0.638 0.2 -0.585 0.12 -0.55V-0.465C0.18 -0.49 0.245 -0.53 0.285 -0.565V0Z"/></g><g transform="matrix(41.275 0 0 40.000 1218.35 807.90)" fill="#000" ><text x="0" y="0" font-weight="bold" font-size="1">down</text></g></g>
</svg>
</body></html>
